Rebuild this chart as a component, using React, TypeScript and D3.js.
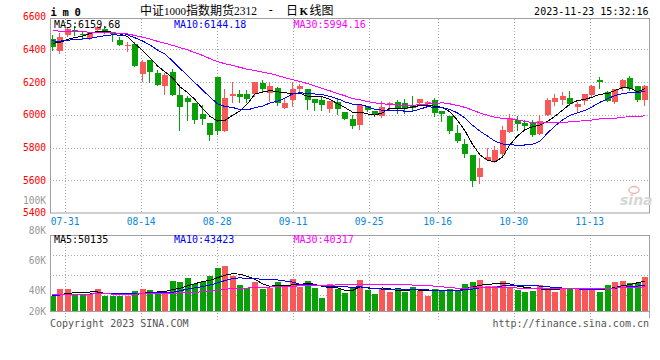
import React from 'react';
import * as d3 from 'd3';

// ---- data ----
const tickIndex = [2, 12, 22, 32, 42, 51, 61, 71];
const tickLabels = ['07-31', '08-14', '08-28', '09-11', '09-25', '10-16', '10-30', '11-13'];
const priceTicks = [6600, 6400, 6200, 6000, 5800, 5600, 5400];
const priceGrid = [6400, 6200, 6000, 5800, 5600];
const volumeTicks = [100000, 80000, 60000, 40000, 20000];
const volumeTickLabels = ['100K', '80K', '60K', '40K', '20K'];
const priceMaLabels = ['MA5:6159.68', 'MA10:6144.18', 'MA30:5994.16'];
const volumeMaLabels = ['MA5:50135', 'MA10:43423', 'MA30:40317'];

const openP = [6463, 6390, 6487, 6516, 6496, 6471, 6516, 6522, 6506, 6457, 6423, 6433, 6248, 6335, 6254, 6179, 6264, 6120, 6102, 6073, 6004, 5949, 6230, 5903, 6116, 6126, 6126, 6126, 6193, 6135, 6162, 6043, 6090, 6155, 6158, 6096, 6090, 6033, 6080, 6020, 5974, 5935, 6056, 6022, 5995, 6058, 6076, 6074, 6057, 6071, 6065, 6092, 6021, 5994, 5889, 5822, 5757, 5621, 5726, 5716, 5761, 5895, 5970, 5950, 5950, 5885, 6000, 6081, 6092, 6102, 6045, 6086, 6118, 6213, 6138, 6081, 6163, 6224, 6173, 6092];
const highP = [6487, 6498, 6532, 6544, 6512, 6508, 6544, 6544, 6508, 6477, 6447, 6443, 6335, 6335, 6274, 6254, 6280, 6169, 6112, 6073, 6061, 5949, 6230, 6159, 6203, 6153, 6153, 6199, 6211, 6200, 6170, 6104, 6203, 6190, 6160, 6096, 6112, 6083, 6100, 6020, 5998, 6060, 6056, 6022, 6083, 6076, 6091, 6094, 6112, 6096, 6083, 6102, 6021, 5994, 5935, 5854, 5757, 5736, 5797, 5807, 5933, 6004, 5990, 5970, 5970, 5996, 6102, 6126, 6138, 6146, 6081, 6126, 6183, 6234, 6146, 6159, 6220, 6240, 6173, 6183];
const lowP = [6396, 6378, 6481, 6487, 6463, 6463, 6508, 6500, 6451, 6425, 6390, 6297, 6207, 6203, 6183, 6126, 6118, 5909, 5970, 5950, 5943, 5848, 5883, 5903, 6081, 6081, 6081, 6112, 6142, 6084, 6060, 6043, 6051, 6144, 6036, 6032, 6030, 6018, 6004, 5976, 5920, 5916, 6022, 5995, 5989, 6035, 6010, 6010, 6027, 6068, 6055, 5990, 5960, 5889, 5834, 5740, 5568, 5584, 5726, 5712, 5757, 5895, 5909, 5909, 5868, 5885, 5996, 6057, 6065, 6057, 6025, 6065, 6112, 6163, 6086, 6071, 6153, 6153, 6086, 6061];
const closeP = [6412, 6473, 6522, 6504, 6488, 6498, 6534, 6512, 6496, 6427, 6427, 6299, 6325, 6260, 6183, 6243, 6122, 6049, 6081, 5970, 5976, 5878, 5903, 6102, 6126, 6110, 6098, 6199, 6159, 6176, 6070, 6074, 6160, 6174, 6090, 6070, 6058, 6083, 6033, 5977, 5931, 6058, 6028, 5997, 6048, 6075, 6040, 6035, 6040, 6094, 6081, 6010, 6004, 5899, 5838, 5761, 5598, 5675, 5740, 5785, 5907, 5980, 5943, 5929, 5874, 5960, 6092, 6102, 6112, 6065, 6065, 6126, 6173, 6199, 6086, 6159, 6213, 6159, 6092, 6173];
const volume = [25600, 36800, 36800, 28400, 28400, 28400, 36800, 25600, 25600, 25600, 25600, 33400, 36800, 34600, 28400, 28400, 50200, 48500, 55200, 45100, 48000, 58500, 71900, 75200, 58500, 43500, 39000, 48500, 37300, 39000, 48500, 40100, 53500, 40100, 50200, 39000, 21700, 45100, 36800, 30100, 38000, 51800, 35600, 28400, 38500, 31800, 36800, 31800, 40100, 33400, 25100, 36800, 35100, 36800, 33400, 45100, 48500, 51800, 41800, 41300, 50200, 40100, 35100, 31800, 33400, 43500, 38500, 31800, 38500, 38500, 36800, 36800, 36800, 31800, 43500, 48500, 50200, 46800, 46800, 57500];
// sessions before the visible window (needed to warm up the moving averages)
const priorClose = [6560, 6540, 6570, 6530, 6550, 6545, 6560, 6535, 6550, 6540, 6590, 6620, 6600, 6610, 6600, 6500, 6470, 6490, 6480, 6470, 6480, 6470, 6460, 6455, 6460, 6450, 6430, 6445, 6448];
const priorVolume = [30000, 28000, 31000, 27000, 29000, 30000, 28000, 29000, 31000, 28000, 27000, 30000, 29000, 28000, 30000, 29000, 28000, 31000, 29000, 28000, 26000, 27000, 25000, 26000, 27000, 26000, 25000, 24000, 24400];

// ---- layout ----
const W = 660, H = 360;
const L = 50, R = 649;
const mainTop = 19, mainBottom = 213;
const volTop = 235, volBottom = 311;
const RED = '#f95858';
const GREEN = '#07a007';
const GRID = '#a8a8a8';
const FRAME = '#a0a0a0';
const MONO = "'DejaVu Sans Mono', monospace";

const n = closeP.length;
const x = d3.scaleLinear().domain([0, n - 1]).range([52.5, 645]);
const xTick = d3.scaleLinear().domain([0, n]).range([50, 658]);
const yP = d3.scaleLinear().domain([5400, 6600]).range([mainBottom, 16.6]);
const yV = d3.scaleLinear().domain([0, 127000]).range([volBottom, volTop]);
const yVLabel = d3.scaleLinear().domain([0, 100000]).range([350.5, 200.5]);

function movingAvg(prior: number[], vals: number[], k: number): number[] {
  const all = prior.concat(vals);
  return vals.map((_, i) => {
    const end = prior.length + i + 1;
    return d3.mean(all.slice(end - k, end)) as number;
  });
}

const maPeriods = [5, 10, 30];
const maColors = ['#000000', '#0000ff', '#ff00ff'];
const priceMA = maPeriods.map((k) => movingAvg(priorClose, closeP, k));
const volMA = maPeriods.map((k) => movingAvg(priorVolume, volume, k));

const priceLine = d3.line<number>().x((_, i) => x(i)).y((d) => yP(d));
const volLine = d3.line<number>().x((_, i) => x(i)).y((d) => yV(d));

export default function App() {
  const idx = d3.range(n);
  const maLabelX = [54, 174, 293.5];
  return (
    <svg width={W} height={H} style={{ position: 'absolute', left: 0, top: 0, background: '#fff' }}>
      <rect x={0} y={0} width={W} height={H} fill="#fff" />
      {/* header */}
      <text x={50.5} y={16} fontFamily={MONO} fontWeight="bold" fontSize={10.5} letterSpacing={-0.3} fill="#000">i m 0</text>
      <text x={140} y={14.5} fill="#000">
        <tspan fontFamily="'Noto Sans CJK SC'" fontSize={12}>中证</tspan>
        <tspan fontFamily="'Liberation Serif', serif" fontSize={11}>1000</tspan>
        <tspan fontFamily="'Noto Sans CJK SC'" fontSize={12}>指数期货</tspan>
        <tspan fontFamily="'Liberation Serif', serif" fontSize={11.5}>2312</tspan>
      </text>
      <text x={270.8} y={14} textAnchor="middle" fontFamily="'Liberation Serif', serif" fontSize={12} fill="#000">-</text>
      <text x={286} y={14.5} fill="#000">
        <tspan fontFamily="'Noto Sans CJK SC'" fontSize={12}>日</tspan>
        <tspan dx={1.5} fontFamily="'Liberation Serif', serif" fontWeight="bold" fontSize={11}>K</tspan>
        <tspan dx={1.5} fontFamily="'Noto Sans CJK SC'" fontSize={12}>线图</tspan>
      </text>
      <text x={648.5} y={15} textAnchor="end" fontFamily={MONO} fontSize={10} fill="#000">2023-11-23 15:32:16</text>

      {/* main grid */}
      {priceGrid.map((p) => (
        <line key={'pg' + p} x1={L} x2={R} y1={Math.round(yP(p)) + 0.5} y2={Math.round(yP(p)) + 0.5} stroke={GRID} strokeDasharray="1,2" />
      ))}
      {tickIndex.map((t) => (
        <line key={'pv' + t} x1={Math.round(xTick(t)) + 0.5} x2={Math.round(xTick(t)) + 0.5} y1={mainTop} y2={mainBottom} stroke={GRID} strokeDasharray="1,2" />
      ))}
      {/* volume grid */}
      {[1, 2, 3].map((k) => (
        <line key={'vg' + k} x1={L} x2={R} y1={volTop + 20 * k + 0.5} y2={volTop + 20 * k + 0.5} stroke={GRID} strokeDasharray="1,2" />
      ))}
      {tickIndex.map((t) => (
        <line key={'vv' + t} x1={Math.round(xTick(t)) + 0.5} x2={Math.round(xTick(t)) + 0.5} y1={volTop} y2={320} stroke={GRID} strokeDasharray="1,2" />
      ))}

      {/* candles */}
      {idx.map((i) => {
        const up = closeP[i] >= openP[i];
        const c = up ? RED : GREEN;
        const left = Math.round(x(i) - 3);
        const top = Math.round(yP(Math.max(openP[i], closeP[i])));
        const bot = Math.round(yP(Math.min(openP[i], closeP[i])));
        return (
          <g key={'c' + i}>
            <line x1={left + 2.5} x2={left + 2.5} y1={Math.round(yP(highP[i]))} y2={Math.round(yP(lowP[i])) + 1} stroke={c} />
            <rect x={left} y={top} width={6} height={Math.max(1, bot - top)} fill={c} />
          </g>
        );
      })}
      {priceMA.map((m, k) => (
        <path key={'pm' + k} d={priceLine(m) || ''} fill="none" stroke={maColors[k]} strokeWidth={1} shapeRendering="crispEdges" />
      ))}

      {/* volume bars */}
      {idx.map((i) => {
        const up = closeP[i] >= openP[i];
        const left = Math.round(x(i) - 3);
        const top = Math.round(yV(volume[i]));
        return <rect key={'v' + i} x={left} y={top} width={6} height={volBottom - top} fill={up ? RED : GREEN} />;
      })}
      {volMA.map((m, k) => (
        <path key={'vm' + k} d={volLine(m) || ''} fill="none" stroke={maColors[k]} strokeWidth={1} shapeRendering="crispEdges" />
      ))}

      {/* frames */}
      <rect x={L + 0.5} y={mainTop - 0.5} width={R - L} height={mainBottom - mainTop + 0.5} fill="none" stroke={FRAME} />
      <line x1={L + 0.5} x2={L + 0.5} y1={volTop} y2={volBottom} stroke={FRAME} />
      <line x1={L} x2={R + 1} y1={volTop + 0.5} y2={volTop + 0.5} stroke={FRAME} />
      <line x1={L} x2={R + 1} y1={volBottom + 0.5} y2={volBottom + 0.5} stroke={FRAME} />
      <line x1={R + 0.5} x2={R + 0.5} y1={volTop} y2={318} stroke={FRAME} />

      {/* axis labels */}
      {priceTicks.map((p) => (
        <text key={'pl' + p} x={46} y={Math.min(yP(p), 212.5) + 3.5} textAnchor="end" fontFamily={MONO} fontSize={9.6} fill="#ff0000">{p}</text>
      ))}
      {volumeTicks.map((v, k) => (
        <text key={'vl' + v} x={46} y={Math.min(yVLabel(v), 311) + 3.5} textAnchor="end" fontFamily={MONO} fontSize={9.6} fill="#999">{volumeTickLabels[k]}</text>
      ))}
      {tickIndex.map((t, k) => (
        <text key={'tl' + t} x={xTick(t)} y={225} textAnchor="middle" fontFamily={MONO} fontSize={9.6} fill="#0a88dd">{tickLabels[k]}</text>
      ))}

      {/* MA labels */}
      {priceMaLabels.map((s, k) => (
        <text key={'pml' + k} x={maLabelX[k]} y={27.5} fontFamily={MONO} fontSize={10} fill={maColors[k]}>{s}</text>
      ))}
      {volumeMaLabels.map((s, k) => (
        <text key={'vml' + k} x={maLabelX[k]} y={242.5} fontFamily={MONO} fontSize={10} fill={maColors[k]}>{s}</text>
      ))}

      {/* watermark */}
      <ellipse cx={634} cy={190} rx={5} ry={3.5} fill="none" stroke="#f2b8b8" strokeWidth={1.5} />
      <text x={620} y={205} fontFamily="'DejaVu Sans', sans-serif" fontStyle="italic" fontWeight="bold" fontSize={14} fill="#d6d6d6">sina</text>

      {/* footer */}
      <text x={50} y={327} fontFamily={MONO} fontSize={10} fill="#555">Copyright 2023 SINA.COM</text>
      <text x={649} y={327} textAnchor="end" fontFamily={MONO} fontSize={10} fill="#555">http://finance.sina.com.cn</text>
    </svg>
  );
}
